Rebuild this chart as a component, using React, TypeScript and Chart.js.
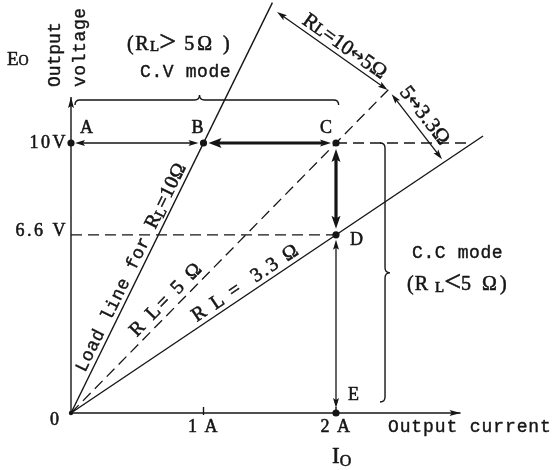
import React, { useEffect, useRef } from "react";
import { Chart, registerables } from "chart.js";

Chart.register(...registerables);

// ---------------- data (current in A, voltage in V) ----------------
const pointNames = ["A", "B", "C", "D", "E"];
const pointCurrent = [0, 1, 2, 2, 2];
const pointVoltage = [10, 10, 10, 6.6, 0];

const currentTicks = [1, 2];
const currentTickLabels = ["1 A", "2 A"];
const voltageTicks = [10, 6.6];
const voltageTickLabels = ["10V", "6.6 V"];

const load10Current = [0, 1.52];
const load10Voltage = [0, 15.2];
const load5Current = [0, 2.4];
const load5Voltage = [0, 12.0];
const load33Current = [0, 3.11];
const load33Voltage = [0, 10.26];

const xAxisCurrent = [0, 2.94];
const xAxisVoltage = [0, 0];
const yAxisCurrent = [0, 0];
const yAxisVoltage = [0, 11.7];

const cvLevelCurrent = [2, 3.0];
const cvLevelVoltage = [10, 10];
const ccLevelCurrent = [0, 2];
const ccLevelVoltage = [6.6, 6.6];

// dimension lines (top right)
const dim1Current = [1.555, 2.39];
const dim1Voltage = [14.85, 11.96];
const dim2Current = [2.42, 2.8];
const dim2Voltage = [11.81, 9.4];

// ---------------- layout / styles ----------------
const MONO = '"Liberation Mono", "DejaVu Sans Mono", monospace';
const SERIF = '"Liberation Serif", "DejaVu Serif", serif';
const INK = "#151515";

type Seg = { t: string; size: number; fam?: string; dy?: number; ls?: number; bold?: number };

const zip = (xs: number[], ys: number[]) => xs.map((x, i) => ({ x, y: ys[i] }));

function drawRich(
  ctx: CanvasRenderingContext2D,
  segs: Seg[],
  x: number,
  y: number,
  angle = 0,
  align: "left" | "right" | "center" = "left",
  baseline: CanvasTextBaseline = "alphabetic"
) {
  ctx.save();
  ctx.translate(x, y);
  ctx.rotate(angle);
  ctx.textBaseline = baseline;
  ctx.textAlign = "left";
  ctx.fillStyle = INK;
  ctx.strokeStyle = INK;
  ctx.lineJoin = "round";
  const setFont = (s: Seg) => {
    ctx.font = `${s.size}px ${s.fam || SERIF}`;
    (ctx as any).letterSpacing = `${s.ls || 0}px`;
  };
  const widths = segs.map((s) => {
    setFont(s);
    return ctx.measureText(s.t).width;
  });
  const total = widths.reduce((a, b) => a + b, 0);
  let cx = align === "right" ? -total : align === "center" ? -total / 2 : 0;
  segs.forEach((s, i) => {
    setFont(s);
    ctx.fillText(s.t, cx, s.dy || 0);
    const b = s.bold ?? (s.fam === MONO ? 0.4 : 0.55);
    if (b > 0) {
      ctx.lineWidth = b;
      ctx.strokeText(s.t, cx, s.dy || 0);
    }
    cx += widths[i];
  });
  ctx.restore();
}

function head(ctx: CanvasRenderingContext2D, tx: number, ty: number, ux: number, uy: number, len: number, hw: number) {
  ctx.beginPath();
  ctx.moveTo(tx, ty);
  ctx.lineTo(tx - ux * len - uy * hw, ty - uy * len + ux * hw);
  ctx.lineTo(tx - ux * len * 0.8, ty - uy * len * 0.8);
  ctx.lineTo(tx - ux * len + uy * hw, ty - uy * len - ux * hw);
  ctx.closePath();
  ctx.fill();
}

function arrow(
  ctx: CanvasRenderingContext2D,
  x1: number, y1: number, x2: number, y2: number,
  o: { w: number; len: number; hw: number; h1: boolean; h2: boolean; in1?: number; in2?: number; len1?: number; hw1?: number }
) {
  const dx = x2 - x1, dy = y2 - y1;
  const L = Math.hypot(dx, dy);
  const ux = dx / L, uy = dy / L;
  const ax = x1 + ux * (o.in1 || 0), ay = y1 + uy * (o.in1 || 0);
  const bx = x2 - ux * (o.in2 || 0), by = y2 - uy * (o.in2 || 0);
  const l1 = o.len1 ?? o.len, w1 = o.hw1 ?? o.hw;
  ctx.save();
  ctx.strokeStyle = INK;
  ctx.fillStyle = INK;
  ctx.lineWidth = o.w;
  ctx.beginPath();
  ctx.moveTo(o.h1 ? ax + ux * l1 * 0.7 : ax, o.h1 ? ay + uy * l1 * 0.7 : ay);
  ctx.lineTo(o.h2 ? bx - ux * o.len * 0.7 : bx, o.h2 ? by - uy * o.len * 0.7 : by);
  ctx.stroke();
  if (o.h1) head(ctx, ax, ay, -ux, -uy, l1, w1);
  if (o.h2) head(ctx, bx, by, ux, uy, o.len, o.hw);
  ctx.restore();
}

const annotate = {
  id: "annotate",
  afterDatasetsDraw(chart: any) {
    const ctx: CanvasRenderingContext2D = chart.ctx;
    const xs = chart.scales.x;
    const ys = chart.scales.y;
    const PX = (v: number) => xs.getPixelForValue(v);
    const PY = (v: number) => ys.getPixelForValue(v);
    const ox = PX(0), oy = PY(0);

    ctx.save();
    ctx.lineCap = "butt";

    // axis arrowheads
    ctx.fillStyle = INK;
    const xEnd = PX(xAxisCurrent[1]);
    head(ctx, xEnd, oy, 1, 0, 11, 3);
    const yEnd = PY(yAxisVoltage[1]);
    head(ctx, ox, yEnd, 0, -1, 11, 3);

    // x tick marks
    ctx.strokeStyle = INK;
    ctx.lineWidth = 1.4;
    currentTicks.forEach((v) => {
      ctx.beginPath();
      ctx.moveTo(PX(v), oy - 6);
      ctx.lineTo(PX(v), oy + 2);
      ctx.stroke();
    });

    // operation arrows
    const p = pointNames.map((_, i) => [PX(pointCurrent[i]), PY(pointVoltage[i])]);
    const [A, B, C, D, E] = p;
    arrow(ctx, A[0], A[1], B[0], B[1], { w: 1.3, len: 10, hw: 3, h1: true, h2: true, in1: 4, in2: 5 });
    arrow(ctx, C[0], C[1], B[0], B[1], { w: 3.2, len: 13, hw: 5, h1: true, h2: true, in1: 5, in2: 5, len1: 11, hw1: 3.5 });
    arrow(ctx, C[0], C[1], D[0], D[1], { w: 3.2, len: 13, hw: 4.5, h1: true, h2: true, in1: 6, in2: 6 });
    arrow(ctx, D[0], D[1], E[0], E[1], { w: 1.3, len: 10, hw: 3, h1: true, h2: true, in1: 5, in2: 5 });

    // dimension lines
    arrow(ctx, PX(dim1Current[0]), PY(dim1Voltage[0]), PX(dim1Current[1]), PY(dim1Voltage[1]),
      { w: 1.3, len: 10, hw: 3, h1: true, h2: true });
    arrow(ctx, PX(dim2Current[0]), PY(dim2Voltage[0]), PX(dim2Current[1]), PY(dim2Voltage[1]),
      { w: 1.3, len: 10, hw: 3, h1: true, h2: true });

    // dots
    ctx.fillStyle = INK;
    p.forEach(([x, y]) => {
      ctx.beginPath();
      ctx.arc(x, y, 3.6, 0, Math.PI * 2);
      ctx.fill();
    });
    ctx.beginPath();
    ctx.arc(ox, oy, 2.2, 0, Math.PI * 2);
    ctx.fill();

    // braces
    ctx.lineWidth = 1.4;
    ctx.strokeStyle = INK;
    {
      const x1 = PX(0.03), x2 = PX(2.02), xm = PX(0.97), y = PY(11.59), h = 5;
      ctx.beginPath();
      ctx.moveTo(x1, y + h);
      ctx.quadraticCurveTo(x1, y, x1 + h, y);
      ctx.lineTo(xm - h, y);
      ctx.quadraticCurveTo(xm, y, xm, y - h);
      ctx.quadraticCurveTo(xm, y, xm + h, y);
      ctx.lineTo(x2 - h, y);
      ctx.quadraticCurveTo(x2, y, x2, y + h);
      ctx.stroke();
    }
    {
      const x = PX(2.37), y1 = PY(10), y2 = PY(0.41), ym = PY(5.19), h = 5;
      ctx.beginPath();
      ctx.moveTo(x - h, y1);
      ctx.quadraticCurveTo(x, y1, x, y1 + h);
      ctx.lineTo(x, ym - h);
      ctx.quadraticCurveTo(x, ym, x + h, ym);
      ctx.quadraticCurveTo(x, ym, x, ym + h);
      ctx.lineTo(x, y2 - h);
      ctx.quadraticCurveTo(x, y2, x - h, y2);
      ctx.stroke();
    }

    // point labels
    const offs = [[9, -10], [-12, -10], [-16, -10], [14, 10], [12, -13]];
    p.forEach(([x, y], i) => {
      drawRich(ctx, [{ t: pointNames[i], size: 18 }], x + offs[i][0], y + offs[i][1]);
    });

    // tick labels
    currentTicks.forEach((v, i) => {
      drawRich(ctx, [{ t: currentTickLabels[i], size: 18, ls: 1.5 }], PX(v), oy + 19, 0, "center");
    });
    const yDy = [0, -4];
    voltageTicks.forEach((v, i) => {
      drawRich(ctx, [{ t: voltageTickLabels[i], size: 18, ls: 2.5 }], ox - 3, PY(v) + yDy[i], 0, "right", "middle");
    });
    drawRich(ctx, [{ t: "0", size: 18 }], ox - 21, oy + 12);

    // axis titles
    drawRich(ctx, [{ t: "E", size: 19 }, { t: "O", size: 14, dy: 0 }], PX(-0.483), PY(12.89));
    drawRich(ctx, [{ t: "Output", size: 18, fam: MONO, ls: 0 }], PX(-0.121), PY(12.07), -Math.PI / 2, "left", "middle");
    drawRich(ctx, [{ t: "voltage", size: 18, fam: MONO, ls: 0.6 }], PX(0.068), PY(12.07), -Math.PI / 2, "left", "middle");
    drawRich(ctx, [{ t: "Output current", size: 18, fam: MONO, ls: 0.9 }], PX(2.392), oy + 19);
    drawRich(ctx, [{ t: "I", size: 23 }, { t: "O", size: 16, dy: 3 }], PX(1.97), PY(-1.85));

    // mode labels
    drawRich(ctx, [
      { t: "(R", size: 20, ls: 1.5 },
      { t: "L", size: 15, dy: 1 },
      { t: ">", size: 30, dy: 1 },
      { t: " 5Ω )", size: 20, ls: 3 },
    ], PX(0.423), PY(13.44));
    drawRich(ctx, [{ t: "C.V mode", size: 18, fam: MONO, ls: 0.6 }], PX(0.521), PY(12.44));
    drawRich(ctx, [{ t: "C.C mode", size: 18, fam: MONO, ls: 0.6 }], PX(2.574), PY(5.74));
    drawRich(ctx, [
      { t: "(R ", size: 20, ls: 1 },
      { t: "L", size: 15, dy: 2 },
      { t: "<", size: 30, dy: 1 },
      { t: "5 Ω)", size: 20, ls: 3 },
    ], PX(2.536), PY(4.56));

    // labels along lines
    const along = (segs: Seg[], xa: number[], ya: number[], dist: number, off: number) => {
      const x1 = PX(xa[0]), y1 = PY(ya[0]), x2 = PX(xa[1]), y2 = PY(ya[1]);
      const L = Math.hypot(x2 - x1, y2 - y1);
      const ux = (x2 - x1) / L, uy = (y2 - y1) / L;
      const vx = uy, vy = -ux; // text "up"
      const ang = Math.atan2(uy, ux);
      drawRich(ctx, segs, x1 + ux * dist + vx * off, y1 + uy * dist + vy * off, ang);
    };
    along([
      { t: "Load line for ", size: 18, fam: MONO, ls: 0.6 },
      { t: "R", size: 20 },
      { t: "L", size: 15, dy: 2 },
      { t: "=10Ω", size: 20, ls: 0.5 },
    ], load10Current, load10Voltage, 42, 5);
    along([{ t: "R L= 5 Ω", size: 20, ls: 2.5 }], load5Current, load5Voltage, 100, 6);
    along([{ t: "R L =  3.3 Ω", size: 20, ls: 2 }], load33Current, load33Voltage, 155, 5);
    along([
      { t: "R", size: 21 },
      { t: "L", size: 17 },
      { t: "=10", size: 21 },
      { t: "↔", size: 17, fam: '"DejaVu Sans"', dy: -1, bold: 0.3 },
      { t: "5Ω", size: 21, ls: 0.5 },
    ], dim1Current, dim1Voltage, 26, 5);
    along([
      { t: "5", size: 21 },
      { t: "↔", size: 17, fam: '"DejaVu Sans"', dy: -1, bold: 0.3 },
      { t: "3.3Ω", size: 21, ls: 0.5 },
    ], dim2Current, dim2Voltage, 3, 7);

    ctx.restore();
  },
};

export default function App() {
  const ref = useRef<HTMLCanvasElement | null>(null);
  useEffect(() => {
    if (!ref.current) return;
    const solid = (data: any[], extra: any = {}) => ({
      data,
      showLine: true,
      borderColor: INK,
      borderWidth: 1.4,
      pointRadius: 0,
      fill: false,
      ...extra,
    });
    const dash = { borderDash: [11, 6], borderWidth: 1.3 };
    const chart = new Chart(ref.current, {
      type: "scatter",
      data: {
        datasets: [
          solid(zip(xAxisCurrent, xAxisVoltage)),
          solid(zip(yAxisCurrent, yAxisVoltage)),
          solid(zip(load10Current, load10Voltage)),
          solid(zip(load5Current, load5Voltage), dash),
          solid(zip(load33Current, load33Voltage)),
          solid(zip(cvLevelCurrent, cvLevelVoltage), dash),
          solid(zip(ccLevelCurrent, ccLevelVoltage), dash),
        ],
      },
      options: {
        animation: false,
        responsive: false,
        maintainAspectRatio: false,
        devicePixelRatio: 1,
        layout: { padding: 0 },
        plugins: { legend: { display: false }, tooltip: { enabled: false }, title: { display: false } },
        events: [],
        scales: {
          x: { type: "linear", display: false, min: -71 / 132.5, max: 484 / 132.5, bounds: "data" },
          y: { type: "linear", display: false, min: -57 / 27, max: 413 / 27, bounds: "data" },
        },
      },
      plugins: [annotate],
    } as any);
    return () => chart.destroy();
  }, []);
  return (
    <div style={{ position: "absolute", left: 0, top: 0, width: 555, height: 470, background: "#fff" }}>
      <canvas ref={ref} width={555} height={470} style={{ width: 555, height: 470, display: "block" }} />
    </div>
  );
}
